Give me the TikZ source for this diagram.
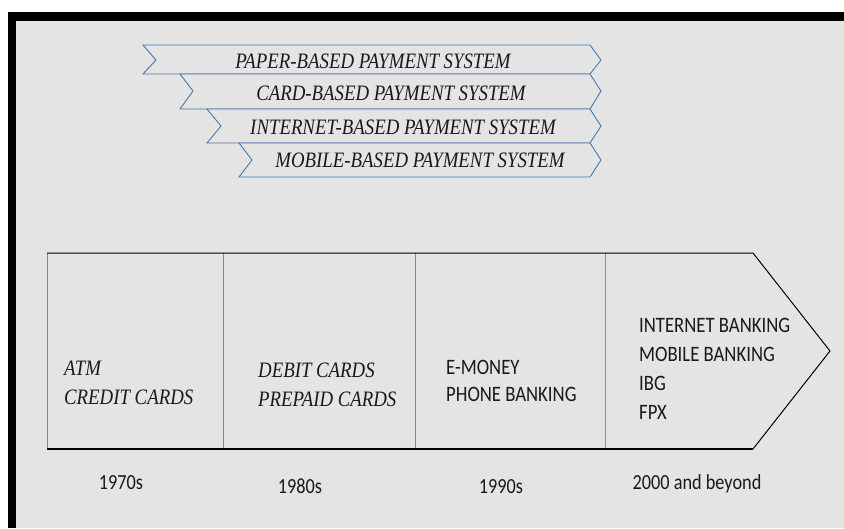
\documentclass[tikz,border=0pt]{standalone}
\usepackage{fontspec}
\newfontfamily\ribbonfont[FakeStretch=0.855]{Liberation Serif}
\newfontfamily\calfont[FakeStretch=0.85]{Carlito}
\definecolor{panelgray}{HTML}{E4E4E4}
\definecolor{ribbonblue}{HTML}{4A78AE}
\definecolor{divgray}{HTML}{8C8C8C}

\begin{document}
\begin{tikzpicture}[x=1pt,y=-1pt,inner sep=0pt,
  ribbon/.style={draw=ribbonblue,line width=0.9pt,fill=panelgray},
  ribbontext/.style={font=\ribbonfont\itshape\fontsize{22}{24}\selectfont,text=black!90},
  itemtext/.style={font=\ribbonfont\itshape\fontsize{22}{29}\selectfont,align=left,anchor=west,text=black!90},
  caltext/.style={font=\calfont\fontsize{22}{29}\selectfont,align=left,anchor=west,text=black!90},
  yeartext/.style={font=\calfont\fontsize{21.5}{25}\selectfont,anchor=base,text=black!90}]

\useasboundingbox (0,0) rectangle (844,528);
\fill[white] (0,0) rectangle (844,528);
\fill[black] (8,12) rectangle (844,528);
\fill[panelgray] (16,21) rectangle (844,528);

% ribbons
\draw[ribbon] (143,45) -- (590,45) -- (601,60) -- (590,74) -- (143,74) -- (156,60) -- cycle;
\draw[ribbon] (180,74) -- (590,74) -- (601,91) -- (590,109) -- (180,109) -- (193,91) -- cycle;
\draw[ribbon] (207,109) -- (590,109) -- (601,126) -- (590,143) -- (207,143) -- (221,126) -- cycle;
\draw[ribbon] (239,143) -- (590,143) -- (601,160) -- (590,177) -- (239,177) -- (252,160) -- cycle;

\node(paper) at (373,61) [ribbontext] {PAPER-BASED PAYMENT SYSTEM};
\node(card) at (391,93) [ribbontext] {CARD-BASED PAYMENT SYSTEM};
\node(internet) at (403,127) [ribbontext] {INTERNET-BASED PAYMENT SYSTEM};
\node(mobile) at (420,160) [ribbontext] {MOBILE-BASED PAYMENT SYSTEM};

% timeline arrow
\draw[divgray,line width=0.8pt] (47,253) -- (47,449);
\draw[divgray,line width=0.8pt] (223,253) -- (223,449);
\draw[divgray,line width=0.8pt] (415,253) -- (415,449);
\draw[divgray,line width=0.8pt] (605,253) -- (605,449);
\draw[line width=1pt] (47,253) -- (753,253) -- (830,351) -- (753,449);
\draw[line width=1.8pt] (47,449) -- (753,449);

\node(seventies) at (64,383) [itemtext] {ATM\\CREDIT CARDS};
\node(eighties) at (258,385) [itemtext] {DEBIT CARDS\\PREPAID CARDS};
\node(nineties) at (446,381) [caltext,font=\calfont\fontsize{22}{26.5}\selectfont] {E-MONEY\\PHONE BANKING};
\node(twothousands) at (639,369) [caltext] {INTERNET BANKING\\MOBILE BANKING\\IBG\\FPX};

% years
\node(y1) at (121,489) [yeartext] {1970s};
\node(y2) at (300,493) [yeartext] {1980s};
\node(y3) at (501,493) [yeartext] {1990s};
\node(y4) at (697,489) [yeartext] {2000 and beyond};

\end{tikzpicture}
\end{document}
